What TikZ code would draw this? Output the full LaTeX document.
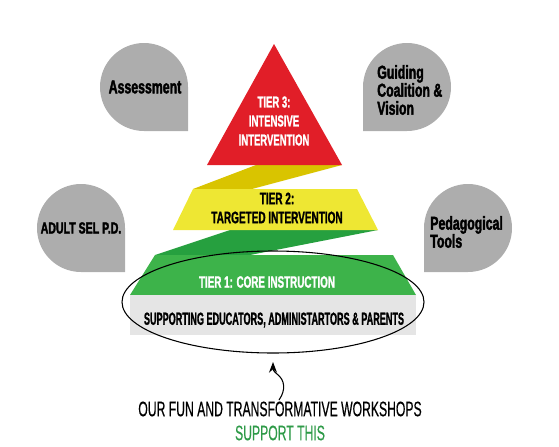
\documentclass[tikz,border=0pt]{standalone}
\usepackage{fontspec}
\usepackage{tikz}
\usetikzlibrary{calc,arrows.meta}

\newfontfamily\tierfont{Liberation Sans}[FakeStretch=0.6, BoldFeatures={FakeBold=1.2}]
\newfontfamily\slabfont{Liberation Sans}[FakeStretch=0.52, BoldFeatures={FakeBold=1}]
\newfontfamily\footfont{Liberation Sans}[FakeStretch=0.58, FakeBold=0.4]
\newfontfamily\dropfont{Liberation Sans}[FakeStretch=0.66, BoldFeatures={FakeBold=2}]

\definecolor{tierred}{HTML}{E11E28}
\definecolor{tieryellow}{HTML}{EEE733}
\definecolor{foldyellow}{HTML}{D9C400}
\definecolor{tiergreen}{HTML}{3DB34A}
\definecolor{foldgreen}{HTML}{26A03F}
\definecolor{slabgrey}{HTML}{E5E5E5}
\definecolor{dropgrey}{HTML}{ADADAD}
\definecolor{supportgreen}{HTML}{2E9A48}

\def\dropL(#1,#2){\fill[dropgrey] (#1+44,#2) -- (#1+44,#2+44) -- (#1,#2+44) arc (90:360:44) -- cycle;}
\def\dropR(#1,#2){\fill[dropgrey] (#1-44,#2) -- (#1-44,#2+44) -- (#1,#2+44) arc (90:-180:44) -- cycle;}

\tikzset{
	droplabel/.style={font=\dropfont\bfseries\fontsize{14}{13.5}\selectfont, text=black, inner sep=0pt},
	tierlabel/.style={font=\tierfont\bfseries\fontsize{11.9}{14.25}\selectfont, text=white, align=center, inner sep=0pt},
	footlabel/.style={font=\footfont\fontsize{15.75}{18}\selectfont, inner sep=0pt}
}

\begin{document}
\begin{tikzpicture}[x=0.75pt, y=-0.75pt]
			%%%%% START %%%%%
			\useasboundingbox (0,0) rectangle (559,446);
			
			% side bubbles
			\dropL(144,87)
			\dropL(81,228)
			\dropR(407,87)
			\dropR(468,228)
			
			\node[droplabel] (assess) at (145,87) {Assessment};
			\node[droplabel, font=\dropfont\bfseries\fontsize{12}{13.5}\selectfont] (adultsel) at (81,228) {ADULT SEL P.D.};
			\node[droplabel, align=left, anchor=west] (guiding) at (377,90) {Guiding\\Coalition \&\\Vision};
			\node[droplabel, align=left, anchor=west] (pedtools) at (430,232) {Pedagogical\\Tools};
			
			% folds
			\fill[foldyellow] (256,165) -- (342,165) -- (252,189) -- (193,189) -- cycle;
			\fill[foldgreen] (230,230) -- (378,230) -- (250,255) -- (155,255) -- cycle;
			
			% tiers
			\fill[tierred] (274,44) -- (342,165) -- (207,165) -- cycle;
			\fill[tieryellow] (193,189) -- (357,189) -- (378,230) -- (173,230) -- cycle;
			\fill[tiergreen] (155,255) -- (393,255) -- (416,295) -- (130,295) -- cycle;
			\fill[slabgrey] (130,295) rectangle (416,335);
			
			\node[tierlabel] (tier3) at (274,121) {TIER 3:\\INTENSIVE\\INTERVENTION};
			\node[tierlabel, text=black, font=\tierfont\bfseries\fontsize{12.5}{14.25}\selectfont] (tier2) at (277,208) {TIER 2:\\TARGETED INTERVENTION};
			\node[tierlabel, font=\tierfont\bfseries\fontsize{12.3}{14.25}\selectfont] (tier1) at (267,282) {TIER 1: CORE INSTRUCTION};
			\node[tierlabel, text=black, font=\slabfont\bfseries\fontsize{13.1}{14}\selectfont] (slab) at (274,320) {SUPPORTING EDUCATORS, ADMINISTARTORS \& PARENTS};
			
			% ring and arrow
			\draw[line width=0.8pt] (273,302) ellipse (151 and 51);
			
			\node[footlabel] (workshops) at (280,409) {OUR FUN AND TRANSFORMATIVE WORKSHOPS};
			\node[footlabel, text=supportgreen] (support) at (280,433) {SUPPORT THIS};
			
			\coordinate (tail) at (279,400);
			\coordinate (tip) at (273,362);
			\draw[line width=0.8pt, -{Stealth[length=8pt,width=6pt]}] (tail) .. controls (286,390) and (285,380) .. (277,374) .. controls (273,371) and (273,369) .. (tip);
			
			%%%%% END %%%%%
		\end{tikzpicture}
\end{document}
